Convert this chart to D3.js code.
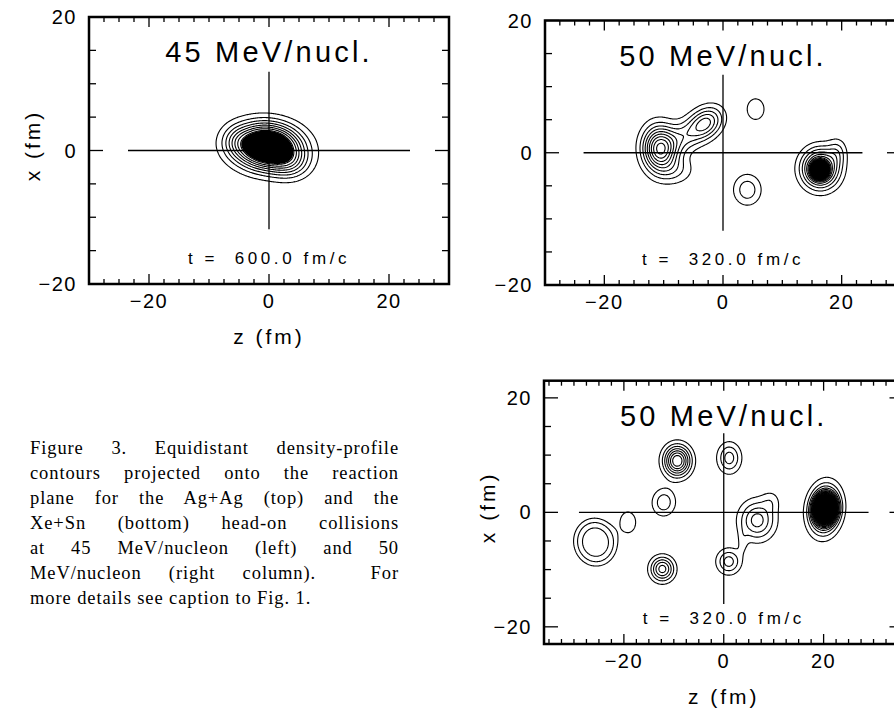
<!DOCTYPE html>
<html><head><meta charset="utf-8">
<script src="https://cdn.jsdelivr.net/npm/d3@7"></script>
<style>
body{margin:0;background:#fff;position:relative;width:894px;height:713px;overflow:hidden}
svg{display:block;position:absolute;left:0;top:0}
#caption{position:absolute;left:30px;top:436px;width:369px;font-family:"Liberation Serif","Times New Roman",serif;font-size:18.5px;letter-spacing:0.9px;line-height:25px;color:#000}
#caption div{text-align:justify;text-align-last:justify;white-space:normal}
#caption div.last{text-align:left;text-align-last:left}
</style></head><body>
<svg id="chart" width="894" height="713"></svg>
<div id="caption"></div>
<script>
// ---------------- DATA ----------------
const panelTitles = ["45 MeV/nucl.", "50 MeV/nucl.", "50 MeV/nucl."];
const timeLabels = ["t =  600.0 fm/c", "t =  320.0 fm/c", "t =  320.0 fm/c"];
const zLabeledTicks = [-20, 0, 20];
const xLabeledTicks = [-20, 0, 20];
const zDomains = [[-30, 30], [-30, 30], [-36, 36]];
const xDomains = [[-20, 20], [-20, 20], [-23, 23]];
// density clusters: [z, x, amplitude, sigmaZ, sigmaX, angleDeg, shapeExponent]
const clusters45 = [
  [-0.3, 0.6, 15, 3.6, 2.15, -4, 2],
  [3.6, -2.0, 2.5, 2.2, 1.6, 0, 2],
  [-5.5, 1.5, 1.2, 1.5, 1.5, 0, 2]
];
const clusters50top = [
  [-10.7, 0.6, 8.5, 1.9, 2.3, 5, 2],
  [-8.0, -2.6, 1.8, 2.2, 1.5, 0, 2],
  [-6.5, 2.5, 3.0, 3.0, 1.6, 25, 2],
  [-2.8, 4.6, 4.5, 2.0, 1.5, 30, 2],
  [5.5, 6.6, 1.6, 1.45, 1.6, 0, 2],
  [4.1, -5.6, 2.7, 1.65, 1.65, 0, 2],
  [16.4, -2.4, 9, 2.05, 1.95, 0, 2],
  [16.3, -2.6, 60, 0.65, 0.62, 0, 2],
  [19.3, 0.2, 1.8, 1.1, 1.4, 0, 2]
];
const clusters50bottom = [
  [-9.3, 9.0, 8, 1.8, 1.8, 0, 2],
  [1.1, 9.5, 3.5, 1.6, 1.8, 0, 2],
  [-12.0, 1.75, 2.7, 1.65, 1.7, -30, 2],
  [-19.2, -1.75, 1.6, 1.6, 1.85, 0, 2],
  [-25.7, -5.2, 3.5, 3.5, 3.3, -20, 4],
  [-12.3, -9.9, 5.5, 1.6, 1.45, 0, 2],
  [1.0, -8.6, 3.5, 1.65, 1.5, 0, 2],
  [3.8, -5.2, 1.0, 0.7, 1.6, 0, 2],
  [6.7, -1.4, 4.5, 2.4, 2.3, 0, 2],
  [9.5, 2.0, 1.2, 1.3, 1.3, 0, 2],
  [20.2, 0.5, 9, 2.0, 2.7, -10, 2],
  [20.3, 0.6, 60, 1.05, 1.2, -10, 2]
];
const contourLevels = [1,2,3,4,5,6,7,8,9,10,11,12,13,14,15,16,17,18,19,20,22,24,26,28,30,33,36,40,45,50];
const coreFillLevel = [8.2, 14, 14];
const crossZ = [[-23.5, 23.5], [-23.5, 23.5], [-29, 29]];
const crossX = [[-11.8, 11.8], [-11.8, 11.8], [-16, 13.8]];
const captionLines = [
  "Figure 3. Equidistant density-profile",
  "contours projected onto the reaction",
  "plane for the Ag+Ag (top) and the",
  "Xe+Sn (bottom) head-on collisions",
  "at 45 MeV/nucleon (left) and 50",
  "MeV/nucleon (right column). \u00a0For",
  "more details see caption to Fig. 1."
];

// ---------------- LAYOUT ----------------
const boxes = [
  {left: 89, right: 449, top: 17, bottom: 284, xTitle: true, yTitle: true},
  {left: 545, right: 901, top: 20.5, bottom: 285, xTitle: false, yTitle: false},
  {left: 544, right: 903.5, top: 380.7, bottom: 644, xTitle: true, yTitle: true}
];
const allClusters = [clusters45, clusters50top, clusters50bottom];
const FONT = "'Liberation Sans', Arial, sans-serif";

const svg = d3.select("#chart");

function density(cl, z, x) {
  let s = 0;
  for (const [cz, cx, a, sz, sx, ang, p] of cl) {
    const t = ang * Math.PI / 180, dz = z - cz, dx = x - cx;
    const u = (dz * Math.cos(t) + dx * Math.sin(t)) / sz;
    const v = (-dz * Math.sin(t) + dx * Math.cos(t)) / sx;
    const r2 = u * u + v * v;
    s += a * Math.exp(-0.5 * Math.pow(r2, p / 2));
  }
  return s;
}

boxes.forEach((b, k) => {
  const zs = d3.scaleLinear().domain(zDomains[k]).range([b.left, b.right]);
  const xs = d3.scaleLinear().domain(xDomains[k]).range([b.bottom, b.top]);
  const g = svg.append("g");
  const clipId = "clip" + k;
  svg.append("clipPath").attr("id", clipId).append("rect")
    .attr("x", b.left).attr("y", b.top).attr("width", b.right - b.left).attr("height", b.bottom - b.top);

  // density grid
  const step = 0.15;
  const z0 = zDomains[k][0], x0 = xDomains[k][0];
  const nz = Math.round((zDomains[k][1] - z0) / step) + 1;
  const nx = Math.round((xDomains[k][1] - x0) / step) + 1;
  const values = new Float64Array(nz * nx);
  for (let j = 0; j < nx; j++) {
    const x = x0 + j * step;
    for (let i = 0; i < nz; i++) values[j * nz + i] = density(allClusters[k], z0 + i * step, x);
  }
  const proj = d3.geoTransform({point(px, py) {
    this.stream.point(zs(z0 + (px - 0.5) * step), xs(x0 + (py - 0.5) * step));
  }});
  const path = d3.geoPath(proj);
  const gen = d3.contours().size([nz, nx]);
  const cg = g.append("g").attr("clip-path", `url(#${clipId})`);
  const core = gen.contour(values, coreFillLevel[k]);
  cg.append("path").attr("d", path(core)).attr("fill", "#000").attr("stroke", "none");
  cg.selectAll("path.c").data(gen.thresholds(contourLevels)(values)).join("path")
    .attr("class", "c").attr("d", path).attr("fill", "none").attr("stroke", "#000").attr("stroke-width", 1.1);

  // crosshair
  g.append("line").attr("x1", zs(crossZ[k][0])).attr("x2", zs(crossZ[k][1])).attr("y1", xs(0)).attr("y2", xs(0))
    .attr("stroke", "#000").attr("stroke-width", 1.3);
  g.append("line").attr("x1", zs(0)).attr("x2", zs(0)).attr("y1", xs(crossX[k][0])).attr("y2", xs(crossX[k][1]))
    .attr("stroke", "#000").attr("stroke-width", 1.3);

  // ticks (inward)
  const zTicks = d3.range(Math.ceil(zDomains[k][0] / 2.5) * 2.5, zDomains[k][1] + 0.01, 2.5);
  const xTicks = d3.range(Math.ceil(xDomains[k][0] / 5) * 5, xDomains[k][1] + 0.01, 5);
  const tg = g.append("g").attr("stroke", "#000").attr("stroke-width", 1.3);
  zTicks.forEach(t => {
    const L = zLabeledTicks.includes(t) ? 10 : 5;
    tg.append("line").attr("x1", zs(t)).attr("x2", zs(t)).attr("y1", b.bottom).attr("y2", b.bottom - L);
    tg.append("line").attr("x1", zs(t)).attr("x2", zs(t)).attr("y1", b.top).attr("y2", b.top + L);
  });
  xTicks.forEach(t => {
    const L = xLabeledTicks.includes(t) ? 14 : 7;
    tg.append("line").attr("x1", b.left).attr("x2", b.left + L).attr("y1", xs(t)).attr("y2", xs(t));
    tg.append("line").attr("x1", b.right).attr("x2", b.right - L).attr("y1", xs(t)).attr("y2", xs(t));
  });

  // frame
  g.append("rect").attr("x", b.left).attr("y", b.top).attr("width", b.right - b.left).attr("height", b.bottom - b.top)
    .attr("fill", "none").attr("stroke", "#000").attr("stroke-width", 2.5);

  // tick labels
  const fmt = v => (v < 0 ? "\u2212" : "") + Math.abs(v);
  g.selectAll("text.zl").data(zLabeledTicks).join("text").attr("class", "zl")
    .attr("x", d => zs(d)).attr("y", b.bottom + 24).attr("text-anchor", "middle")
    .attr("font-family", FONT).attr("font-size", 20).attr("letter-spacing", 1.5).text(fmt);
  g.selectAll("text.xl").data(xLabeledTicks).join("text").attr("class", "xl")
    .attr("x", b.left - 12).attr("y", d => xs(d) + 7).attr("text-anchor", "end")
    .attr("font-family", FONT).attr("font-size", 20).attr("letter-spacing", 1.5).text(fmt);

  // title and time label
  const cx = zs(0);
  g.append("text").attr("x", cx).attr("y", b.top + 45).attr("text-anchor", "middle")
    .attr("font-family", FONT).attr("font-size", 29).attr("letter-spacing", 3.2).text(panelTitles[k]);
  g.append("text").attr("x", cx).attr("y", b.bottom - 20).attr("text-anchor", "middle")
    .attr("font-family", FONT).attr("font-size", 17).attr("letter-spacing", 3.6)
    .style("white-space", "pre").text(timeLabels[k]);

  if (b.xTitle) {
    g.append("text").attr("x", cx).attr("y", b.bottom + 60).attr("text-anchor", "middle")
      .attr("font-family", FONT).attr("font-size", 21).attr("letter-spacing", 3).text("z (fm)");
  }
  if (b.yTitle) {
    g.append("text").attr("transform", `translate(${b.left - 57},${xs(0) - 5}) rotate(-90)`)
      .attr("text-anchor", "middle").attr("dominant-baseline", "central")
      .attr("font-family", FONT).attr("font-size", 21).attr("letter-spacing", 3).text("x (fm)");
  }
});

// caption
d3.select("#caption").selectAll("div").data(captionLines).join("div")
  .attr("class", (d, i) => i === captionLines.length - 1 ? "last" : null)
  .text(d => d);
</script>
</body></html>
